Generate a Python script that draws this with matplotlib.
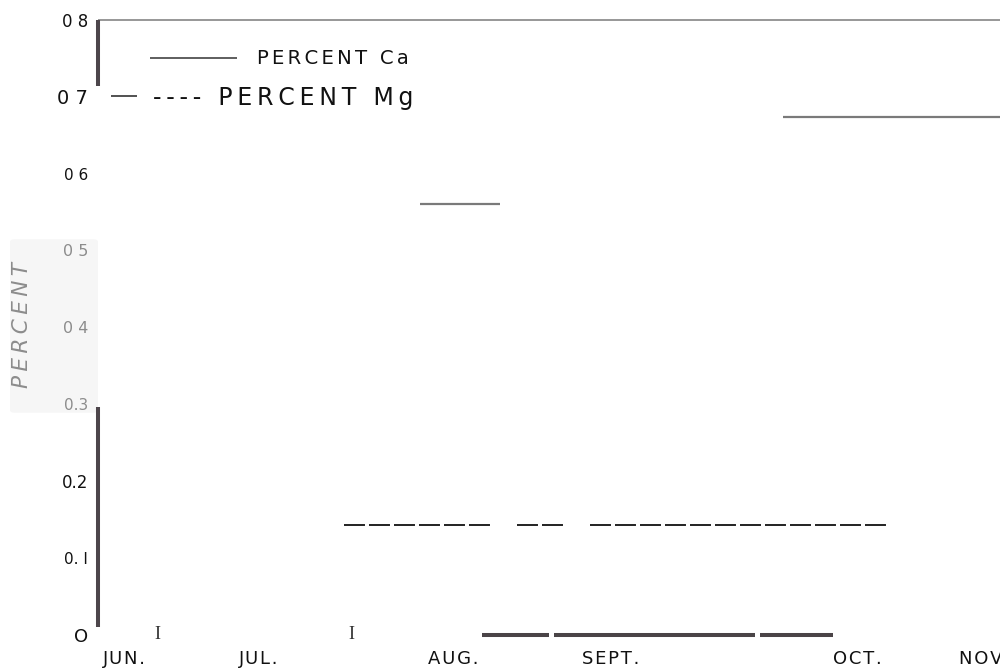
import matplotlib
matplotlib.use("Agg")
import matplotlib.pyplot as plt
from matplotlib.patches import FancyBboxPatch

plt.rcParams["lines.scale_dashes"] = False
plt.rcParams["font.family"] = ["DejaVu Sans"]

# ---- data (x in days from start of June, y in percent) ----
months = ["JUN.", "JUL.", "AUG.", "SEPT.", "OCT.", "NOV."]
month_pos = [4.4, 26.7, 59.0, 85.3, 126.2, 147.5]

y_ticks = [0.0, 0.1, 0.2, 0.3, 0.4, 0.5, 0.6, 0.7, 0.8]
y_tick_labels = ["O", "0. I", "0.2", "0.3", "0 4", "0 5", "0 6", "0 7", "0 8"]

# calcium: constant-level segments (start day, end day, percent)
ca_start = [53.5, 113.9]
ca_end = [66.9, 150.0]
ca_value = [0.56, 0.674]

# magnesium: dashed segments
mg_start = [40.9, 69.7, 81.8]
mg_end = [65.5, 77.3, 131.4]
mg_value = [0.142, 0.142, 0.142]

# bars along the baseline
base_start = [63.9, 75.8, 110.1]
base_end = [75.0, 109.3, 122.2]
base_value = [0.0, 0.0, 0.0]

# "I" marks along the baseline
i_marks = [9.8, 42.2]

# ---- figure ----
W, H = 1000, 671
fig = plt.figure(figsize=(W / 100, H / 100), dpi=100)
fig.patch.set_facecolor("white")
renderer = fig.canvas.get_renderer()

SPACERS = ["", "\u200a", "\u2006", "\u2009"]
HAIR = "\u200a"


def tracked(s, size, width_px, max_grow=1.2, **kw):
    """Pick a font size (up to max_grow x size) and letter spacing so s spans ~width_px."""
    best, best_err = (s, size), float("inf")
    for sp in SPACERS:
        cand = sp.join(s) if sp else s
        k = 0
        while True:
            f = size * (1 + 0.025 * k)
            if f > size * max_grow + 1e-9:
                break
            t = fig.text(0, 0, cand, fontsize=f, **kw)
            w = t.get_window_extent(renderer).width
            t.remove()
            err = abs(w - width_px)
            if err < best_err:
                best, best_err = (cand, f), err
            if err <= 2.5:
                return cand, f
            k += 1
    return best


# faint haze behind the mid labels
fig.patches.append(FancyBboxPatch((14 / W, 1 - 410 / H), 80 / W, 168 / H,
                                  boxstyle="round,pad=0.004", transform=fig.transFigure,
                                  facecolor="#f6f6f6", edgecolor="none", zorder=0))

ax = fig.add_axes([98 / W, (H - 634.5) / H, 902 / W, 614.5 / H])
ax.set_zorder(2)
ax.set_xlim(0, 150)
ax.set_ylim(0, 0.8)
ax.patch.set_alpha(0)
for s in ax.spines.values():
    s.set_visible(False)

# frame: thin top line, broken heavy left line
ax.plot([0, 150], [0.8, 0.8], color="#7a7a7a", lw=1.1, clip_on=False, solid_capstyle="butt")
spine_col = "#4d464b"
ax.plot([0, 0], [0.8, 0.714], color=spine_col, lw=2.9, clip_on=False, solid_capstyle="butt")
ax.plot([0, 0], [0.296, 0.0098], color=spine_col, lw=2.9, clip_on=False, solid_capstyle="butt")

# y tick labels
ax.set_yticks(y_ticks, y_tick_labels)
ax.tick_params(axis="y", length=0, pad=7)
hazy = {"0.3", "0 4", "0 5"}
sizes = {"O": 13, "0. I": 11, "0.2": 12, "0.3": 11, "0 4": 11.5, "0 5": 11.5,
         "0 6": 11, "0 7": 14, "0 8": 12}
for lab in ax.get_yticklabels():
    t = lab.get_text()
    lab.set_fontsize(sizes[t])
    lab.set_color("#8c8c8c" if t in hazy else "#111111")

# x tick labels (month names, lightly tracked)
ax.set_xticks(month_pos, [HAIR.join(m) for m in months])
ax.tick_params(axis="x", length=0, pad=11, labelsize=13, labelcolor="#111111")

# data
for x0, x1, v in zip(ca_start, ca_end, ca_value):
    ax.plot([x0, x1], [v, v], color="#7a7a7a", lw=1.6, solid_capstyle="butt", clip_on=False)
for x0, x1, v in zip(mg_start, mg_end, mg_value):
    ax.plot([x0, x1], [v, v], color="#111111", lw=1.3, linestyle=(0, (15.1, 2.9)),
            dash_capstyle="butt", clip_on=False)
for x0, x1, v in zip(base_start, base_end, base_value):
    ax.plot([x0, x1], [v, v], color="#4a4447", lw=2.9, solid_capstyle="butt", clip_on=False)
for xm in i_marks:
    ax.text(xm, 0.0, "I", ha="center", va="center", fontsize=13,
            family="Liberation Serif", color="#333333")

# key
ax.plot([8.6, 23.1], [0.75, 0.75], color="#333333", lw=1.1, solid_capstyle="butt", clip_on=False)
ca_txt, ca_fs = tracked("PERCENT Ca", 12.0, 153)
ax.text(26.4, 0.75, ca_txt, va="center", ha="left", fontsize=ca_fs, color="#111111")
ax.plot([2.2, 6.5], [0.701, 0.701], color="#222222", lw=1.1, solid_capstyle="butt", clip_on=False)
mg_txt, mg_fs = tracked("---- PERCENT Mg", 14.5, 262)
ax.text(9.1, 0.699, mg_txt, va="center", ha="left", fontsize=mg_fs, color="#111111")

# axis title
ttl, ttl_fs = tracked("PERCENT", 13, 140, style="italic")
fig.text(22 / W, 1 - 325 / H, ttl, rotation=90,
         ha="center", va="center", fontsize=ttl_fs, style="italic", color="#8c8c8c")

fig.savefig("out.png", dpi=100, facecolor="white")
